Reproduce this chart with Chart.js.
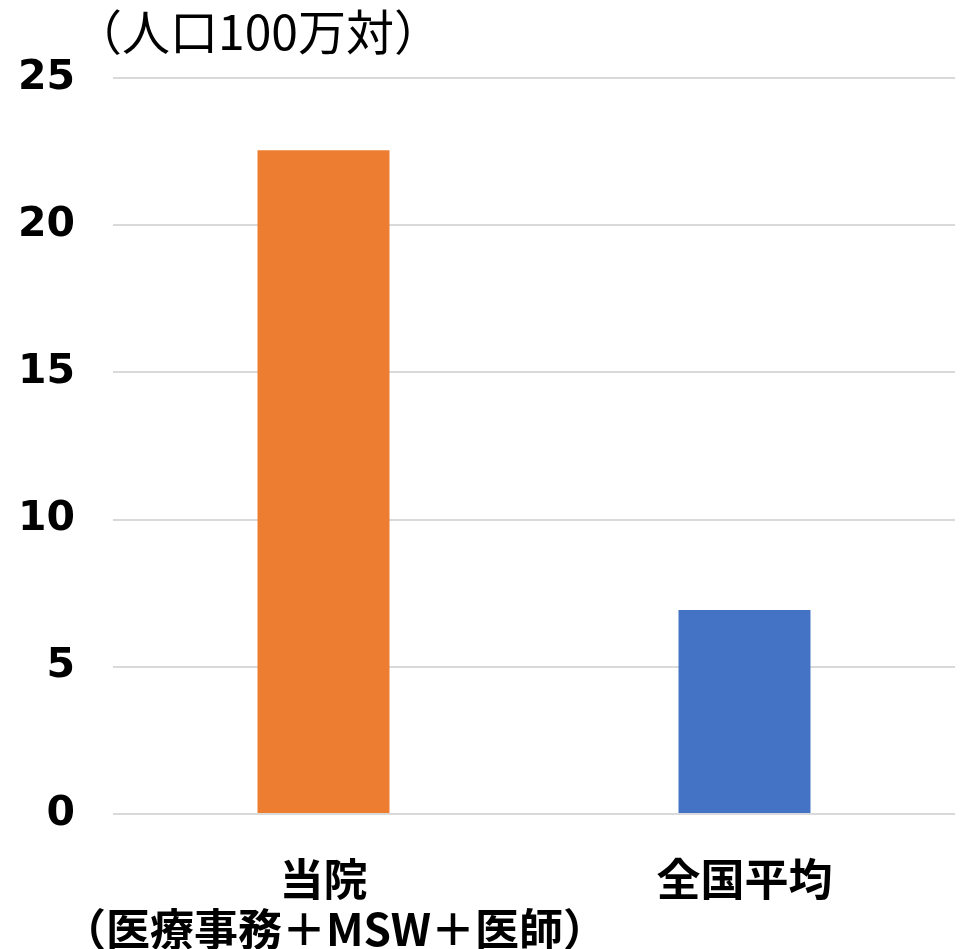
<!DOCTYPE html>
<html>
<head>
<meta charset="utf-8">
<script src="https://cdn.jsdelivr.net/npm/chart.js@4/dist/chart.umd.min.js"></script>
<style>
  html, body { margin: 0; padding: 0; background: #fff; }
  #wrap { width: 970px; height: 949px; }
</style>
</head>
<body>
<div id="wrap"><canvas id="chart" width="970" height="949"></canvas></div>
<script>
// categories and values
var categories = [['当院', '　（医療事務＋MSW＋医師）'], '全国平均'];
var values = [22.55, 6.93];
var barColors = ['#ED7D31', '#4472C4'];
var yTicks = [0, 5, 10, 15, 20, 25];
var unitLabel = '（人口100万対）';

// unit text drawn above the value axis
var unitTitle = {
    id: 'unitTitle',
    afterDraw: function(chart) {
        var ctx = chart.ctx;
        ctx.save();
        ctx.font = '48px "Noto Sans CJK JP"';
        ctx.fillStyle = '#000';
        ctx.textAlign = 'left';
        ctx.textBaseline = 'middle';
        ctx.fillText(unitLabel, chart.chartArea.left - 39, 32);
        ctx.restore();
    }
};

var ctx = document.getElementById('chart').getContext('2d');
var myChart = new Chart(ctx, {
    type: 'bar',
    data: {
        labels: categories,
        datasets: [{
            data: values,
            backgroundColor: barColors,
            borderWidth: 0,
            categoryPercentage: 1,
            barPercentage: 0.3135
        }]
    },
    options: {
        responsive: false,
        animation: false,
        plugins: {
            legend: { display: false },
            tooltip: { enabled: false }
        },
        layout: {
            padding: { left: 0, right: 15, top: 78, bottom: 0 }
        },
        scales: {
            x: {
                grid: { display: false },
                border: { display: false },
                ticks: {
                    color: '#000',
                    padding: 32,
                    autoSkip: false,
                    maxRotation: 0,
                    font: { family: '"Noto Sans CJK JP"', size: 44, weight: 'bold', lineHeight: 1.14 }
                },
                afterFit: function(scale) {
                    // keep the wide two-line label from pushing the plot area inward
                    scale.height = 135;
                    scale.paddingLeft = 0;
                    scale.paddingRight = 0;
                }
            },
            y: {
                min: 0,
                max: 25,
                afterBuildTicks: function(scale) {
                    scale.ticks = yTicks.map(function(v) { return { value: v }; });
                },
                grid: { color: '#d9d9d9', lineWidth: 2, drawTicks: false },
                border: { display: false },
                ticks: {
                    color: '#000',
                    padding: 38,
                    font: { family: '"DejaVu Sans"', size: 41, weight: 'bold' }
                },
                afterFit: function(scale) { scale.width = 113; }
            }
        }
    },
    plugins: [unitTitle]
});
</script>
</body>
</html>
